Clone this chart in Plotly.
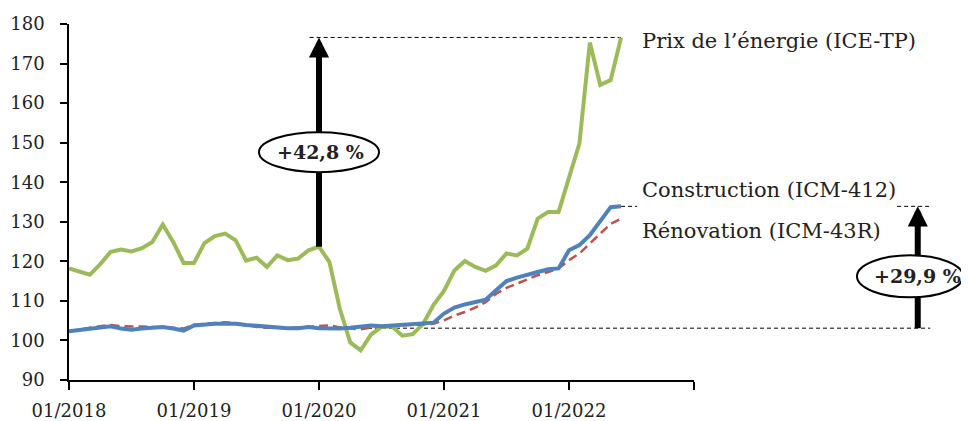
import plotly.graph_objects as go

# Indices mensuels, janvier 2018 = 0 ... juin 2022 = 53
mois = list(range(54))
tick_pos = [0, 12, 24, 36, 48, 60]
tick_labels = ["01/2018", "01/2019", "01/2020", "01/2021", "01/2022", ""]

energie = [
    118.2, 117.5, 116.6, 119.3, 122.4, 123.0, 122.5, 123.3, 124.9, 129.3, 124.9, 119.6,
    119.6, 124.6, 126.4, 127.0, 125.3, 120.2, 120.9, 118.6, 121.5, 120.3, 120.7, 122.8,
    123.7, 119.8, 108.0, 99.5, 97.5, 101.5, 103.4, 103.6, 101.2, 101.6, 104.2, 109.0,
    112.5, 117.7, 120.1, 118.6, 117.6, 119.0, 122.0, 121.5, 123.2, 130.8, 132.5, 132.5,
    141.3, 149.8, 175.3, 164.6, 165.8, 176.6,
]
construction = [
    102.3, 102.6, 103.0, 103.3, 103.6, 103.0, 102.7, 103.0, 103.2, 103.4, 103.0, 102.5,
    103.8, 104.1, 104.2, 104.2, 104.2, 103.9, 103.7, 103.5, 103.1, 103.1, 103.1, 103.4,
    103.1, 103.0, 103.0, 103.2, 103.5, 103.8, 103.6, 103.8, 103.9, 104.0, 104.2, 104.5,
    106.8, 108.3, 109.1, 109.7, 110.3, 112.7, 115.0, 115.9, 116.7, 117.3, 118.0, 118.2,
    122.8, 124.1, 126.6, 130.0, 133.7, 133.9,
]
renovation = [
    102.3, 102.8, 103.2, 103.6, 103.9, 103.6, 103.6, 103.5, 103.4, 103.4, 103.2, 103.0,
    104.0, 104.2, 104.4, 104.6, 104.4, 104.0, 103.4, 103.2, 103.2, 103.1, 103.3, 103.5,
    103.6, 103.8, 103.3, 103.0, 102.8, 103.3, 103.6, 103.7, 103.8, 103.9, 104.0, 104.2,
    105.1, 106.3, 107.2, 108.3, 109.7, 111.8, 113.3, 114.4, 115.4, 116.5, 117.3, 118.2,
    120.3, 122.0, 124.5, 127.0, 129.5, 130.8,
]

FONT = "DejaVu Serif"
TXT = "#222222"

# hausses depuis janvier 2020
i0 = 24
e_base, e_top = energie[i0], energie[-1]
c_base, c_top = construction[i0], construction[-1]
pct_e = "+" + f"{(e_top / e_base - 1) * 100:.1f}".replace(".", ",") + " %"
pct_c = "+" + f"{(c_top / c_base - 1) * 100:.1f}".replace(".", ",") + " %"

fig = go.Figure()
fig.add_trace(go.Scatter(x=mois, y=energie, mode="lines",
                         line=dict(color="#9BBB59", width=4)))
fig.add_trace(go.Scatter(x=mois, y=renovation, mode="lines",
                         line=dict(color="#C0504D", width=2.5, dash="9px,5px")))
fig.add_trace(go.Scatter(x=mois, y=construction, mode="lines",
                         line=dict(color="#4F81BD", width=4)))

x_arrow2 = 1.358  # position (paper) de la flèche de droite
dash_style = dict(color="black", width=1, dash="4px,3px")

shapes = [
    # pointillés énergie
    dict(type="line", xref="x", yref="y", x0=i0 - 0.9, x1=53, y0=e_top, y1=e_top,
         line=dash_style, layer="below"),
    # pointillés construction (base et sommet)
    dict(type="line", xref="paper", yref="y", x0=i0 / 60, x1=1.378, y0=c_base, y1=c_base,
         line=dash_style, layer="below"),
    dict(type="line", xref="paper", yref="y", x0=53 / 60, x1=0.909, y0=c_top, y1=c_top,
         line=dash_style, layer="below"),
    dict(type="line", xref="paper", yref="y", x0=1.325, x1=1.378, y0=c_top, y1=c_top,
         line=dash_style, layer="below"),
    # tiges des flèches
    dict(type="line", xref="x", yref="y", x0=i0, x1=i0, y0=e_base, y1=e_top - 3,
         line=dict(color="black", width=6), layer="above"),
    dict(type="line", xref="paper", yref="y", x0=x_arrow2, x1=x_arrow2, y0=c_base, y1=c_top - 3,
         line=dict(color="black", width=6), layer="above"),
    # ellipses
    dict(type="circle", xref="x", yref="y", xsizemode="pixel", ysizemode="pixel",
         xanchor=i0, yanchor=147.6, x0=-60, x1=60, y0=-20, y1=20,
         fillcolor="white", line=dict(color="black", width=2), layer="above"),
    dict(type="circle", xref="paper", yref="y", xsizemode="pixel", ysizemode="pixel",
         xanchor=1.3456, yanchor=116.2, x0=-53, x1=53, y0=-21, y1=21,
         fillcolor="white", line=dict(color="black", width=2), layer="above"),
]

annotations = [
    # pointes des flèches
    dict(x=i0, y=e_top, xref="x", yref="y", ax=0, ay=22, text="", showarrow=True,
         arrowhead=2, arrowsize=0.67, arrowwidth=6, arrowcolor="black"),
    dict(x=x_arrow2, y=c_top, xref="paper", yref="y", ax=0, ay=22, text="", showarrow=True,
         arrowhead=2, arrowsize=0.67, arrowwidth=6, arrowcolor="black"),
    # pourcentages
    dict(x=i0 + 0.1, y=147.6, xref="x", yref="y", xanchor="center", text="<b>" + pct_e + "</b>",
         showarrow=False, font=dict(family=FONT, size=19, color=TXT)),
    dict(x=x_arrow2, y=116.2, xref="paper", yref="y", xanchor="center", text="<b>" + pct_c + "</b>",
         showarrow=False, font=dict(family=FONT, size=19, color=TXT)),
    # libellés des séries
    dict(x=0.914, y=175.7, xref="paper", yref="y", xanchor="left",
         text="Prix de l’énergie (ICE-TP)", showarrow=False,
         font=dict(family=FONT, size=21, color=TXT)),
    dict(x=0.914, y=138.0, xref="paper", yref="y", xanchor="left",
         text="Construction (ICM-412)", showarrow=False,
         font=dict(family=FONT, size=21, color=TXT)),
    dict(x=0.914, y=127.6, xref="paper", yref="y", xanchor="left",
         text="Rénovation (ICM-43R)", showarrow=False,
         font=dict(family=FONT, size=21, color=TXT)),
]

# la page ajoute une marge de 8 px : on la compense
fig.update_layout(
    width=969, height=421,
    margin=dict(l=61, r=283, t=16, b=49, autoexpand=False),
    paper_bgcolor="white", plot_bgcolor="white",
    showlegend=False,
    shapes=shapes, annotations=annotations,
    font=dict(family=FONT, size=18, color=TXT),
)
fig.update_xaxes(
    range=[0, 60], tickmode="array", tickvals=tick_pos, ticktext=tick_labels,
    showgrid=False, zeroline=False, showline=True, linecolor="black", linewidth=1.5,
    ticks="outside", ticklen=8, tickwidth=1.5, tickcolor="black",
    ticklabelstandoff=6, automargin=False,
)
fig.update_yaxes(
    range=[90, 180], tickvals=list(range(90, 181, 10)),
    showgrid=False, zeroline=False, showline=True, linecolor="black", linewidth=1.5,
    ticks="outside", ticklen=7, tickwidth=1.5, tickcolor="black",
    ticklabelstandoff=12, automargin=False,
)

fig.write_html("out.html")
